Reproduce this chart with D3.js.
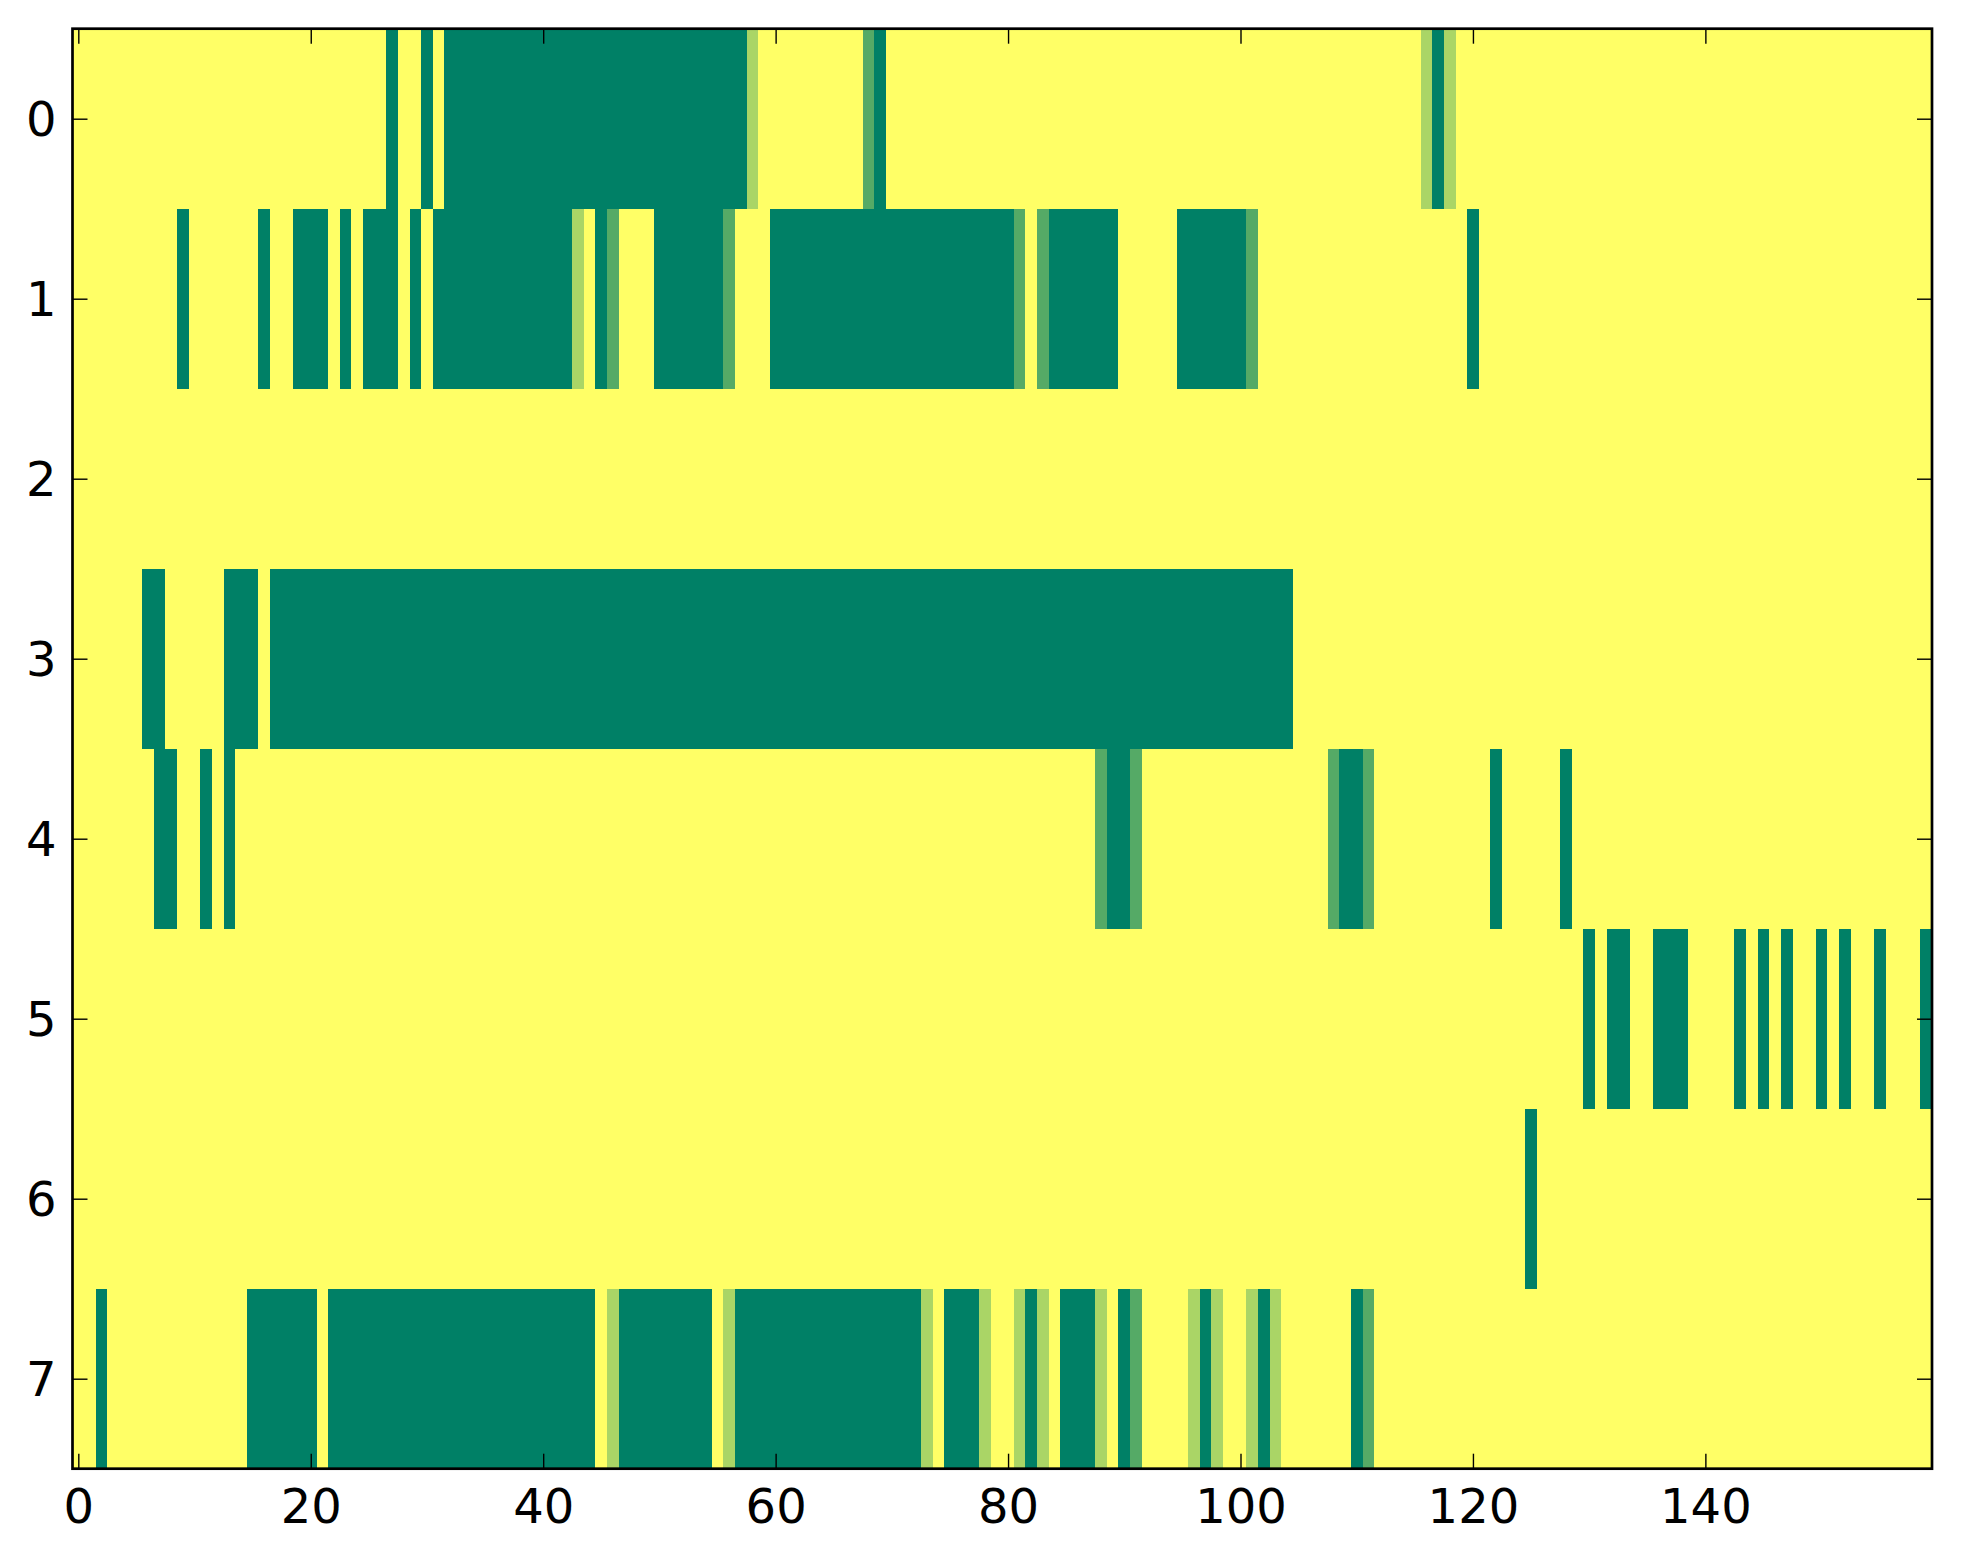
<!DOCTYPE html>
<html>
<head>
<meta charset="utf-8">
<title>Heatmap</title>
<script src="https://cdn.jsdelivr.net/npm/d3@7/dist/d3.min.js"></script>
<style>
  html, body { margin: 0; padding: 0; background: #ffffff; }
  svg { display: block; }
  .tick text { font-family: "DejaVu Sans", sans-serif; font-size: 48px; fill: #000; }
  .tick line { stroke: #000; stroke-width: 1.4px; }
</style>
</head>
<body>
<script>
'use strict';

// level of each cell: 0 = darkest green ... 3 = yellow (background)
// runs are [firstColumn, lastColumn, level]; any cell not listed is yellow
var nColumns = 160,
    rowLabels = [0, 1, 2, 3, 4, 5, 6, 7],
    xTickValues = [0, 20, 40, 60, 80, 100, 120, 140],
    emptyLevel = 3;

var row0 = [[27, 27, 0], [30, 30, 0], [32, 57, 0], [58, 58, 2], [68, 68, 1],
    [69, 69, 0], [116, 116, 2], [117, 117, 0], [118, 118, 2]];
var row1 = [[9, 9, 0], [16, 16, 0], [19, 21, 0], [23, 23, 0], [25, 27, 0],
    [29, 29, 0], [31, 42, 0], [43, 43, 2], [45, 45, 0], [46, 46, 1],
    [50, 55, 0], [56, 56, 1], [60, 80, 0], [81, 81, 1], [83, 83, 1],
    [84, 89, 0], [95, 100, 0], [101, 101, 1], [120, 120, 0]];
var row2 = [];
var row3 = [[6, 7, 0], [13, 15, 0], [17, 104, 0]];
var row4 = [[7, 8, 0], [11, 11, 0], [13, 13, 0], [88, 88, 1], [89, 90, 0],
    [91, 91, 1], [108, 108, 1], [109, 110, 0], [111, 111, 1], [122, 122, 0],
    [128, 128, 0]];
var row5 = [[130, 130, 0], [132, 133, 0], [136, 138, 0], [143, 143, 0],
    [145, 145, 0], [147, 147, 0], [150, 150, 0], [152, 152, 0],
    [155, 155, 0], [159, 159, 0]];
var row6 = [[125, 125, 0]];
var row7 = [[2, 2, 0], [15, 20, 0], [22, 44, 0], [46, 46, 2], [47, 54, 0],
    [56, 56, 2], [57, 72, 0], [73, 73, 2], [75, 77, 0], [78, 78, 2],
    [81, 81, 2], [82, 82, 0], [83, 83, 2], [85, 87, 0], [88, 88, 2],
    [90, 90, 0], [91, 91, 1], [96, 96, 2], [97, 97, 0], [98, 98, 2],
    [101, 101, 2], [102, 102, 0], [103, 103, 2], [110, 110, 0],
    [111, 111, 1]];

var rows = [row0, row1, row2, row3, row4, row5, row6, row7];

var width = 1963,
    height = 1564,
    margin = {top: 28.7, right: 31, bottom: 95.3, left: 72.5},
    plotW = width - margin.left - margin.right,
    plotH = height - margin.top - margin.bottom,
    tickLen = 15;

/**
 * Expand the run lists into one cell per column for every row.
 */
var cells = [];
rows.forEach(function (runs, r) {
  var levels = [],
      c;

  for (c = 0; c < nColumns; c++) {
    levels.push(emptyLevel);
  }
  runs.forEach(function (run) {
    for (c = run[0]; c <= run[1]; c++) {
      levels[c] = run[2];
    }
  });
  levels.forEach(function (v, col) {
    cells.push({row: r, col: col, value: v});
  });
});

var x = d3.scaleLinear()
    .domain([-0.5, nColumns - 0.5])
    .range([0, plotW]);

var y = d3.scaleLinear()
    .domain([-0.5, rows.length - 0.5])
    .range([0, plotH]);

// matplotlib "summer": green (0, .5, .4) to yellow (1, 1, .4)
var color = d3.scaleLinear()
    .domain([0, emptyLevel])
    .range(['#008066', '#ffff66'])
    .interpolate(d3.interpolateRgb);

var svg = d3.select('body').append('svg')
    .attr('width', width)
    .attr('height', height);

var g = svg.append('g')
    .attr('transform', 'translate(' + margin.left + ',' + margin.top + ')');

g.append('g')
    .attr('class', 'cells')
    .attr('shape-rendering', 'crispEdges')
  .selectAll('rect')
    .data(cells)
  .enter().append('rect')
    .attr('x', function (d) { return x(d.col - 0.5); })
    .attr('y', function (d) { return y(d.row - 0.5); })
    .attr('width', function (d) { return x(d.col + 0.5) - x(d.col - 0.5) + 0.5; })
    .attr('height', function (d) { return y(d.row + 0.5) - y(d.row - 0.5) + 0.5; })
    .attr('fill', function (d) { return color(d.value); });

// axes, ticks pointing inward on all four sides
var bottomAxis = g.append('g')
    .attr('transform', 'translate(0,' + plotH + ')')
    .call(d3.axisBottom(x).tickValues(xTickValues)
        .tickSizeInner(-tickLen).tickSizeOuter(0).tickPadding(20));

var topAxis = g.append('g')
    .call(d3.axisTop(x).tickValues(xTickValues)
        .tickSizeInner(-tickLen).tickSizeOuter(0).tickFormat(''));

var leftAxis = g.append('g')
    .call(d3.axisLeft(y).tickValues(rowLabels)
        .tickSizeInner(-tickLen).tickSizeOuter(0).tickPadding(16));

var rightAxis = g.append('g')
    .attr('transform', 'translate(' + plotW + ',0)')
    .call(d3.axisRight(y).tickValues(rowLabels)
        .tickSizeInner(-tickLen).tickSizeOuter(0).tickFormat(''));

[bottomAxis, topAxis, leftAxis, rightAxis].forEach(function (a) {
  a.select('.domain').remove();
});

leftAxis.selectAll('text').attr('dy', '0.36em');

// frame
g.append('rect')
    .attr('x', 0)
    .attr('y', 0)
    .attr('width', plotW)
    .attr('height', plotH)
    .attr('fill', 'none')
    .attr('stroke', '#000')
    .attr('stroke-width', 2.7);
</script>
</body>
</html>
